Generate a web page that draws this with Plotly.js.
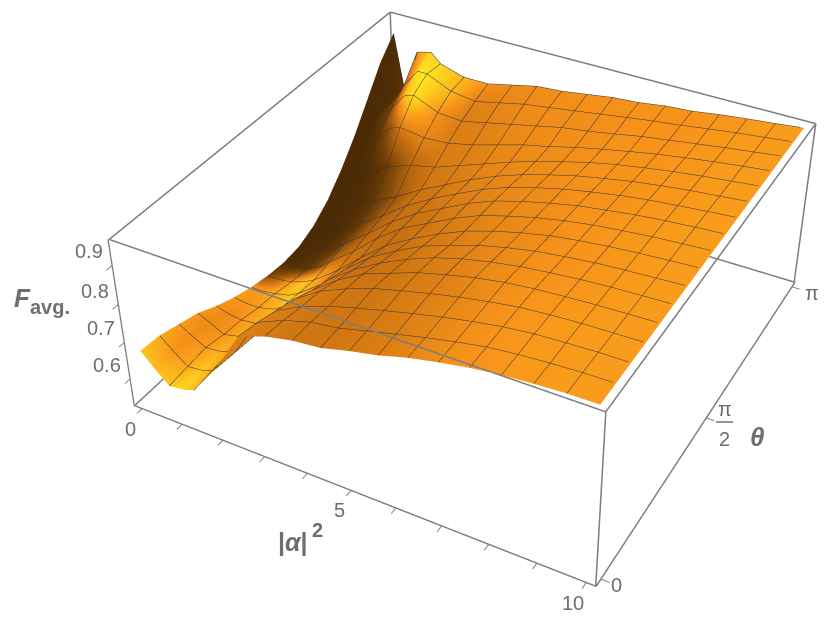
<!DOCTYPE html>
<html><head><meta charset="utf-8">
<script src="https://cdn.plot.ly/plotly-3.0.1.min.js"></script>
<style>html,body{margin:0;padding:0;background:#fff;overflow:hidden;width:830px;height:627px}#g{position:absolute}</style>
</head><body><div id="g"></div>
<script>
const alpha2 = [0,.3,.625,1,1.25,1.875,2.5,3.125,3.75,4.375,5,5.625,6.25,6.875,7.5,8.125,8.75,9.375,10];
const theta = [0,.196,.393,.589,.785,.982,1.178,1.374,1.571,1.767,1.963,2.16,2.356,2.553,2.749,2.945,3.142];
const favg = [
[.67,.635,.60,.605,.615,.70,.81,.835,.85,.857,.875,.89,.91,.925,.938,.947,.953,.957,.958],
[.665,.635,.605,.61,.62,.695,.80,.83,.85,.86,.878,.895,.912,.927,.94,.948,.953,.957,.958],
[.65,.63,.61,.615,.625,.69,.785,.82,.845,.865,.883,.90,.916,.93,.942,.95,.954,.957,.958],
[.635,.62,.60,.61,.625,.68,.77,.815,.845,.87,.888,.905,.92,.933,.944,.95,.954,.956,.958],
[.61,.60,.595,.60,.62,.67,.75,.80,.84,.865,.89,.908,.924,.936,.944,.949,.953,.956,.958],
[.59,.585,.585,.595,.61,.66,.735,.785,.825,.858,.885,.905,.92,.932,.94,.947,.952,.955,.958],
[.575,.575,.58,.59,.605,.655,.72,.775,.815,.85,.875,.897,.914,.928,.937,.945,.95,.954,.958],
[.565,.565,.57,.585,.60,.65,.71,.765,.805,.84,.87,.892,.91,.925,.935,.943,.949,.954,.958],
[.56,.56,.565,.585,.61,.66,.72,.77,.805,.84,.87,.89,.908,.922,.933,.941,.948,.953,.958],
[.565,.565,.575,.595,.62,.67,.725,.77,.805,.84,.868,.888,.905,.92,.93,.94,.947,.953,.958],
[.585,.585,.595,.615,.635,.68,.73,.77,.805,.838,.865,.885,.902,.916,.928,.938,.945,.952,.958],
[.62,.62,.63,.645,.66,.695,.735,.77,.805,.835,.86,.88,.898,.912,.925,.935,.944,.951,.958],
[.67,.67,.68,.70,.72,.745,.76,.785,.81,.835,.858,.877,.895,.91,.922,.933,.942,.95,.958],
[.73,.73,.75,.785,.795,.785,.79,.805,.825,.845,.86,.878,.893,.907,.92,.931,.941,.95,.958],
[.80,.77,.79,.84,.85,.82,.815,.83,.845,.86,.875,.885,.897,.91,.92,.93,.94,.949,.958],
[.87,.76,.825,.875,.875,.845,.835,.85,.865,.875,.885,.895,.905,.915,.923,.933,.942,.95,.958],
[.92,.74,.885,.895,.87,.85,.85,.865,.88,.885,.895,.905,.91,.92,.925,.935,.943,.95,.958]];
const shade = [
[.9,.85,.9,.95,.85,.6,.62,.6,.58,.58,.6,.62,.66,.7,.72,.74,.74,.75,.75],
[.8,.72,.8,.9,.8,.62,.62,.6,.58,.58,.6,.62,.66,.7,.72,.74,.74,.75,.75],
[.75,.7,.75,.82,.8,.66,.62,.6,.58,.58,.6,.63,.66,.7,.72,.74,.74,.75,.75],
[.72,.68,.72,.8,.82,.68,.62,.6,.58,.58,.6,.63,.66,.7,.72,.74,.74,.75,.75],
[.72,.68,.72,.8,.85,.7,.62,.58,.56,.58,.6,.63,.67,.7,.72,.73,.74,.75,.75],
[.74,.72,.75,.82,.88,.7,.6,.56,.56,.58,.62,.64,.67,.7,.72,.73,.74,.75,.75],
[.75,.75,.8,.88,.9,.68,.58,.55,.56,.6,.62,.65,.68,.7,.72,.73,.74,.75,.75],
[.3,.5,.75,.9,.85,.62,.56,.55,.58,.6,.63,.66,.68,.7,.72,.73,.74,.75,.75],
[.1,.12,.2,.38,.5,.56,.55,.55,.58,.62,.65,.67,.69,.71,.72,.73,.74,.75,.75],
[.08,.1,.12,.2,.3,.5,.55,.56,.6,.63,.66,.68,.7,.71,.72,.73,.74,.75,.75],
[.08,.08,.1,.15,.22,.45,.56,.58,.62,.65,.67,.69,.7,.71,.72,.73,.74,.75,.75],
[.08,.08,.1,.13,.2,.42,.58,.6,.64,.66,.68,.7,.71,.72,.72,.73,.74,.75,.75],
[.08,.08,.1,.16,.25,.5,.6,.62,.65,.67,.69,.7,.71,.72,.72,.73,.74,.75,.75],
[.08,.08,.15,.4,.62,.66,.62,.63,.66,.68,.7,.7,.71,.72,.72,.73,.74,.75,.75],
[.08,.1,.3,.85,1,.72,.62,.64,.67,.69,.7,.7,.71,.72,.72,.73,.74,.75,.75],
[.08,.12,.5,.98,1,.85,.64,.66,.68,.7,.7,.71,.71,.72,.72,.73,.74,.75,.75],
[.08,.18,.7,.95,.95,.85,.72,.68,.7,.7,.71,.71,.72,.72,.72,.73,.74,.75,.75]];
const xTickVals = [0,1,2,3,4,5,6,7,8,9,10];
const yTickVals = [0,1.5708,3.1416];
const zTickVals = [.6,.7,.8,.9];
const xBox = [-.2,10.2];
const yBox = [-.063,3.204];
const zBox = [.525,.965];
const zLabels = ['0.6','0.7','0.8','0.9'];
const colours = [[0,'#3a2003'],[.3,'#7a4508'],[.55,'#c66f10'],[.72,'#f8931a'],[1,'#ffe420']];

const F = 2.25, W = 830*F, H = 627*F, left = -(W-830)/2+65, top0 = -(H-627)/2-51;
const el = document.getElementById('g');
el.style.left = left+'px'; el.style.top = top0+'px';
el.style.width = W+'px'; el.style.height = H+'px';
const px = (x,y)=>({x:(x-left)/W, y:1-(y-top0)/H});
const grey = '#6e6e6e', fam = 'Liberation Sans, Arial, sans-serif';
function note(x,y,text,size){const p=px(x,y);
  return {xref:'paper',yref:'paper',x:p.x,y:p.y,text,showarrow:false,xanchor:'center',yanchor:'middle',font:{family:fam,size:size,color:grey}};}
function tick(x,y,z,text,dx,dy){return {x,y,z,text,showarrow:false,xshift:dx,yshift:dy,xanchor:'center',yanchor:'middle',font:{family:fam,size:20,color:grey}};}
const axisBase = {showbackground:false,showgrid:false,zeroline:false,showspikes:false,showticklabels:false,
  showline:true,linecolor:'#7d7d7d',linewidth:3,mirror:false,ticks:'inside',ticklen:7,tickwidth:2,tickcolor:'#7d7d7d',
  tickmode:'array',title:{text:''}};
const lineStyle = {show:true,color:'#333333',width:3,start:0,highlight:false};
const trace = {type:'surface',x:alpha2,y:theta,z:favg,surfacecolor:shade,cmin:0,cmax:1,colorscale:colours,showscale:false,
  hoverinfo:'skip',
  lighting:{ambient:1,diffuse:0,specular:0,roughness:1,fresnel:0},
  contours:{x:Object.assign({},lineStyle,{start:0,end:10,size:.625}),
            y:Object.assign({},lineStyle,{start:0,end:3.1416,size:.19635})}};
const a = xBox[0]+.015, b = xBox[1]-.015, c = yBox[0]+.005, d = yBox[1]-.005, e = zBox[0]+.0007, f = zBox[1]-.0007;
const boxX=[], boxY=[], boxZ=[];
[[[a,c,f],[b,c,f]],[[b,c,f],[b,d,f]],[[b,c,e],[b,c,f]],[[b,d,e],[b,d,f]],[[a,d,e],[a,d,f]],
 [[a,d,e],[b,d,e]],[[a,c,e],[a,d,e]],[[a,c,f],[a,d,f]],[[a,d,f],[b,d,f]]].forEach(s=>{
  boxX.push(s[0][0],s[1][0],null); boxY.push(s[0][1],s[1][1],null); boxZ.push(s[0][2],s[1][2],null);
});
const box = {type:'scatter3d',mode:'lines',x:boxX,y:boxY,z:boxZ,connectgaps:false,line:{color:'#7d7d7d',width:3},hoverinfo:'skip',showlegend:false};
const layout = {width:W,height:H,margin:{l:0,r:0,t:0,b:0},paper_bgcolor:'#fff',showlegend:false,
  scene:{domain:{x:[0,1],y:[0,1]},aspectmode:'manual',aspectratio:{x:1,y:1,z:.4},
    camera:{eye:{x:1.3,y:-2.4,z:2},center:{x:0,y:0,z:0},up:{x:0,y:0,z:1}},
    xaxis:Object.assign({},axisBase,{range:xBox,tickvals:xTickVals}),
    yaxis:Object.assign({},axisBase,{range:yBox,tickvals:yTickVals}),
    zaxis:Object.assign({},axisBase,{range:zBox,tickvals:zTickVals}),
    annotations:[
      tick(-.2,-.063,zTickVals[0],zLabels[0],-23,14),
      tick(-.2,-.063,zTickVals[1],zLabels[1],-23,14),
      tick(-.2,-.063,zTickVals[2],zLabels[2],-23,14),
      tick(-.2,-.063,zTickVals[3],zLabels[3],-23,14),
      tick(xTickVals[0],-.063,.525,'0',-12,-20),
      tick(xTickVals[5],-.063,.525,'5',-12,-20),
      tick(xTickVals[10],-.063,.525,'10',-13,-21),
      tick(10.2,yTickVals[0],.525,'0',16,-6),
      tick(10.2,yTickVals[2],.525,'π',20,-6)]},
  annotations:[
    note(23,298,'<b><i>F</i></b>',26),
    note(50,307,'<b>avg.</b>',20),
    note(293,542,'<b>|<i>α</i>|</b>',25),
    note(318,530,'<b>2</b>',20),
    note(757,437,'<b><i>θ</i></b>',26),
    note(725,409,'π',20),
    note(724,439,'2',20)],
  shapes:[{type:'line',xref:'paper',yref:'paper',x0:px(716,422).x,x1:px(733,422).x,y0:px(716,422).y,y1:px(716,422).y,line:{color:grey,width:1.5}}]
};
Plotly.newPlot(el,[trace,box],layout,{displayModeBar:false,responsive:false});
</script></body></html>
